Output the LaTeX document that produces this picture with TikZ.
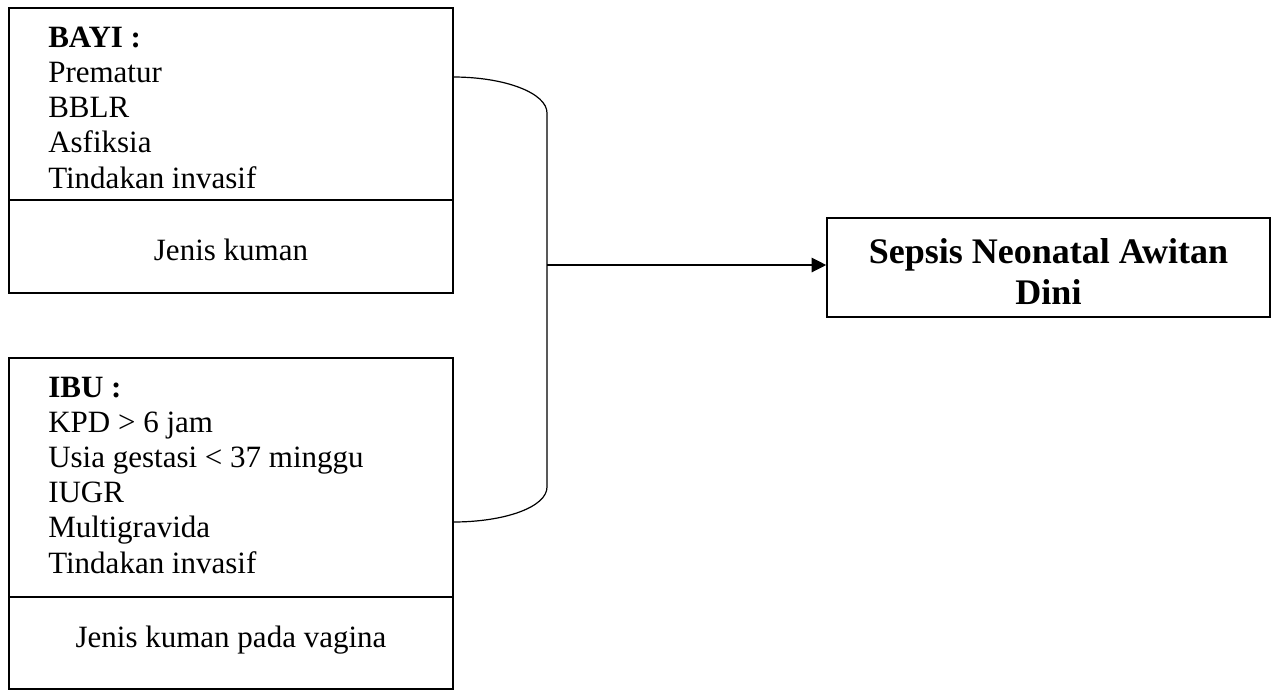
\documentclass[tikz,border=0pt]{standalone}
\usepackage{fontspec}
\setmainfont{Liberation Serif}
\usetikzlibrary{arrows.meta}

\tikzset{
  kotak/.style={draw, line width=1.2pt, rectangle, inner sep=0pt},
  garis/.style={line width=1.2pt},
  teks/.style={anchor=base west, inner sep=0pt, font=\fontsize{23.25}{26}\selectfont},
  tebal/.style={anchor=base west, inner sep=0pt, font=\fontsize{23.25}{26}\selectfont\bfseries},
  hubung/.style={line width=0.9pt},
}

\begin{document}
\begin{tikzpicture}[x=0.75pt,y=0.75pt,yscale=-1,xscale=1]
        \useasboundingbox (0,0) rectangle (1271,690);

        % Shape: Rectangle (bayi)
        \node [kotak, minimum width=333pt, minimum height=213.75pt] (bayi) at (231,150.5) {};
        \coordinate (bayisplit) at (9,200);
        \draw [garis] (bayisplit) -- (bayisplit -| bayi.east);
        % Text Node
        \node [tebal] (bayihead) at (48,47) {BAYI :};
        \foreach \t [count=\i] in {Prematur, BBLR, Asfiksia, Tindakan invasif}
            \node [teks] (bayi\i) at (48,47+35.25*\i) {\t};
        \node [teks, anchor=base] (bayikuman) at (231,260) {Jenis kuman};

        % Shape: Rectangle (ibu)
        \node [kotak, minimum width=333pt, minimum height=248.25pt] (ibu) at (231,523.5) {};
        \coordinate (ibusplit) at (9,597);
        \draw [garis] (ibusplit) -- (ibusplit -| ibu.east);
        % Text Node
        \node [tebal] (ibuhead) at (48,397) {IBU :};
        \foreach \t [count=\i] in {KPD > 6 jam, Usia gestasi < 37 minggu, IUGR, Multigravida, Tindakan invasif}
            \node [teks] (ibu\i) at (48,397+35.2*\i) {\t};
        \node [teks, anchor=base] (ibukuman) at (231,647) {Jenis kuman pada vagina};

        % Shape: Rectangle (sepsis)
        \node [kotak, minimum width=332.25pt, minimum height=74.25pt] (sepsis) at (1048.5,267.5) {};
        % Text Node
        \node [inner sep=0pt, align=center, font=\fontsize{27}{30.75}\selectfont\bfseries] (sepsisteks) at (1048.5,271.5) {Sepsis Neonatal Awitan\\Dini};

        %Curve Lines
        \coordinate (atas) at (453,77);
        \coordinate (bawah) at (453,522);
        \coordinate (temu) at (547,265);
        \draw [hubung] (atas) .. controls (505,77) and (547,93) .. (547,113) -- (547,487) .. controls (547,507) and (505,522) .. (bawah);
        \draw [hubung, -{Triangle[length=11pt,width=11pt]}] (temu) -- (temu -| sepsis.west);

\end{tikzpicture}
\end{document}
